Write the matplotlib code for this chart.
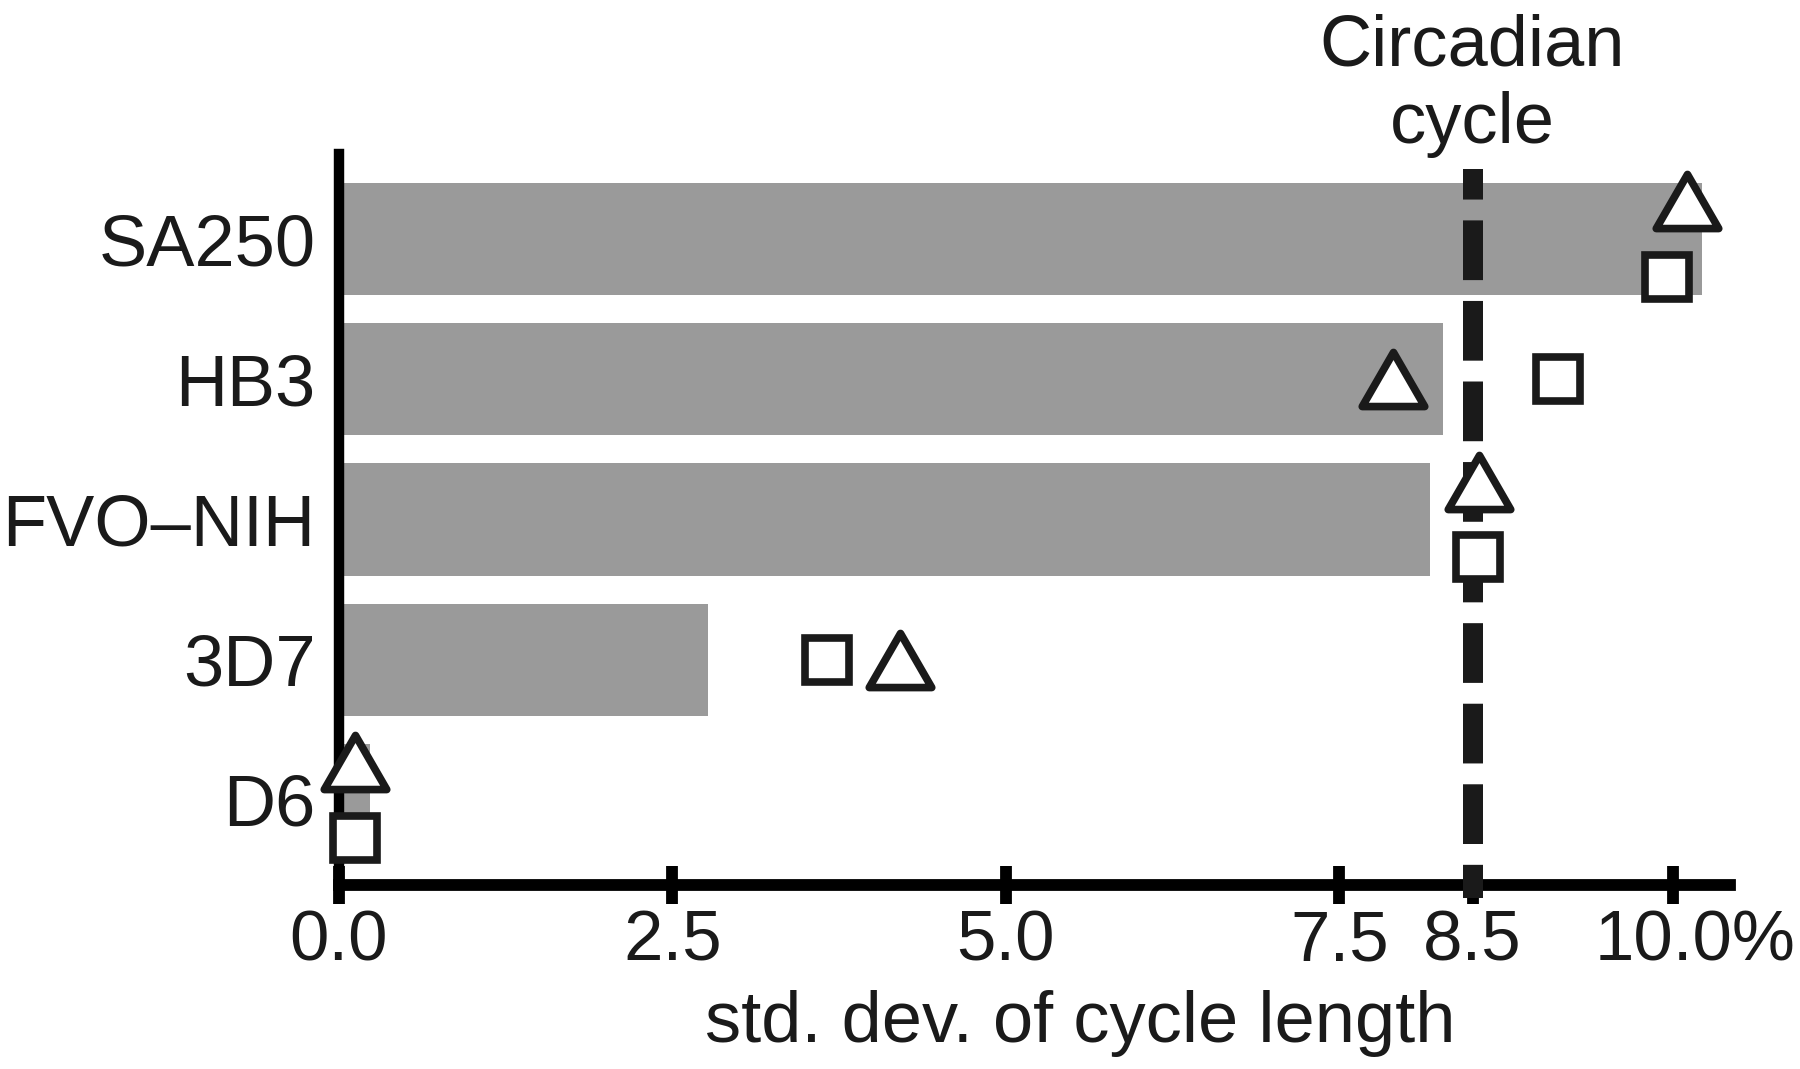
import numpy as np
import matplotlib
matplotlib.use('Agg')
from matplotlib import pyplot as plt
from matplotlib import transforms
from matplotlib.markers import MarkerStyle
from matplotlib.path import Path

plt.rcParams['font.family'] = ['Liberation Sans', 'DejaVu Sans']
plt.rcParams['lines.scale_dashes'] = False

# values (std. dev. of cycle length, %)
strains = ["SA250", "HB3", "FVO\u2013NIH", "3D7", "D6"]
bar_vals = [10.22, 8.28, 8.18, 2.77, 0.23]
tri_vals = [10.11, 7.90, 8.55, 4.21, 0.12]
sq_vals = [9.96, 9.14, 8.54, 3.66, 0.12]
circadian = 8.5
xticks = [0, 2.5, 5.0, 7.5, 8.5, 10.0]
xticklabels = ["0.0", "2.5", "5.0", "7.5", "8.5", "10.0%"]

W, H = 1800, 1069
fig = plt.figure(figsize=(W / 100, H / 100), dpi=100)
# axes box in pixels: left 339, right 1730, top 154, bottom 885
ax = fig.add_axes([339 / W, 1 - 885 / H, (1730 - 339) / W, (885 - 154) / H])

ypos = np.arange(len(strains))[::-1]
ax.barh(ypos, bar_vals, height=0.8, color='#9a9a9a', zorder=1)

# markers that would overlap each other get nudged up/down
tri_y = ypos.astype(float).copy()
sq_y = ypos.astype(float).copy()
for i in range(len(strains)):
    if abs(tri_vals[i] - sq_vals[i]) < 0.4:
        tri_y[i] += 0.27
        sq_y[i] -= 0.27

# equilateral-ish triangle, centred on its bounding box
tri_path = Path([(0, 0.433), (-0.5, -0.433), (0.5, -0.433), (0, 0.433)],
                [Path.MOVETO, Path.LINETO, Path.LINETO, Path.CLOSEPOLY])
tri_marker = MarkerStyle(tri_path, joinstyle='miter')

ax.plot(tri_vals, tri_y, linestyle='none', marker=tri_marker, markersize=45,
        markerfacecolor='white', markeredgecolor='#1a1a1a', markeredgewidth=5.5,
        zorder=5, clip_on=False)
ax.plot(sq_vals, sq_y, linestyle='none', marker='s', markersize=32,
        markerfacecolor='white', markeredgecolor='#1a1a1a', markeredgewidth=5.5,
        zorder=5, clip_on=False)

ylo, yhi = -0.607, 4.607
ax.set_ylim(ylo, yhi)
ax.set_xlim(0, 10.43)

# circadian line, dashed, running a bit below the axis
ax.plot([circadian, circadian], [4.5, ylo - 0.093], color='#1a1a1a', lw=14.4,
        linestyle=(21, (43, 15)), solid_capstyle='butt', dash_capstyle='butt',
        zorder=4, clip_on=False)

blend = transforms.blended_transform_factory(ax.transData, ax.transAxes)
ax.text(circadian, 0.995, "Circadian\ncycle", transform=blend, ha='center',
        va='bottom', multialignment='center', fontsize=52, color='#1a1a1a')

for s in ['top', 'right']:
    ax.spines[s].set_visible(False)
ax.spines['left'].set_linewidth(7.5)
ax.spines['bottom'].set_linewidth(8.5)

ax.set_yticks(ypos)
ax.set_yticklabels(strains, fontsize=52, color='#1a1a1a')
ax.tick_params(axis='y', length=0, pad=17)

ax.set_xticks(xticks)
ax.set_xticklabels(xticklabels, fontsize=51, color='#1a1a1a')
ax.tick_params(axis='x', direction='inout', length=27, width=8.5, pad=4)

# keep "10.0" roughly centred on its tick, the % sign hangs to the right
lab = ax.get_xticklabels()[-1]
lab.set_transform(lab.get_transform() +
                  transforms.ScaledTranslation(0.22, 0, fig.dpi_scale_trans))

ax.set_xlabel("std. dev. of cycle length", fontsize=52, color='#1a1a1a')
ax.xaxis.label.set_verticalalignment('baseline')
ax.xaxis.set_label_coords((1080 - 339) / (1730 - 339), (885 - 1042) / (885 - 154))

fig.savefig('out.png', dpi=100)
